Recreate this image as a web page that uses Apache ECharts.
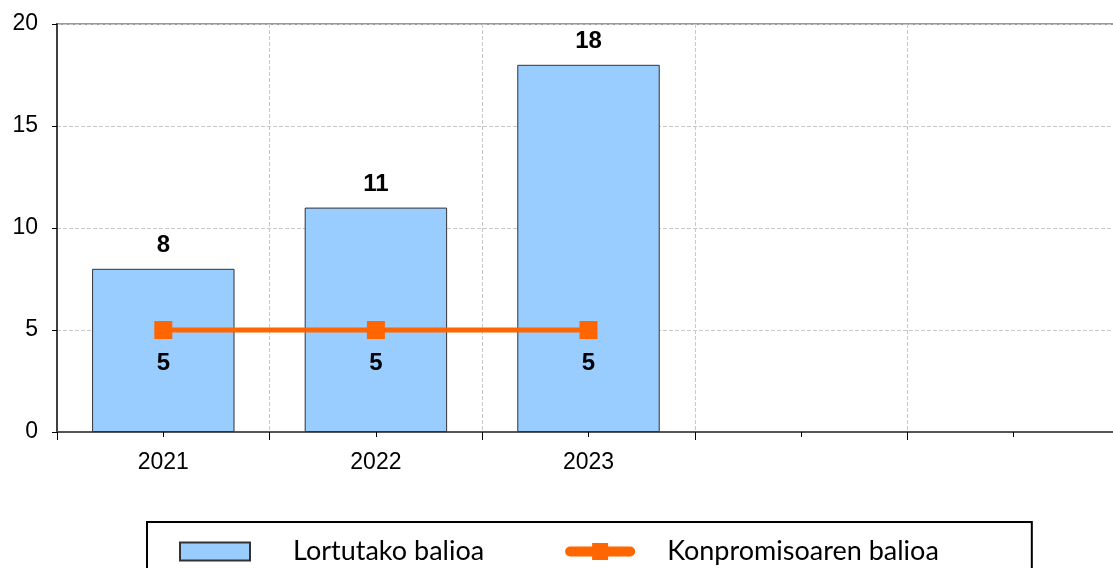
<!DOCTYPE html>
<html lang="eu">
<head>
    <meta charset="UTF-8">
    <title>Chart</title>
    <script src="https://cdn.jsdelivr.net/npm/echarts@6/dist/echarts.min.js"></script>
    <style>
        html, body { margin: 0; padding: 0; background: #fff; }
    </style>
</head>
<body>
<div id="main" style="width:1113px;height:568px;"></div>

<script type="text/javascript">
    // datuak
    var years = ['2021', '2022', '2023', '', ''];
    var lortutako = [8, 11, 18];
    var konpromiso = [5, 5, 5];
    var yTicks = { min: 0, max: 20, interval: 5 };

    // legendako lerro ikonoa: marra biribildua + laukia erdian
    var lineIcon = 'path://M5,4 H65 A5,5 0 0 1 65,14 H5 A5,5 0 0 1 5,4 Z M27,0.5 H43 V17.5 H27 Z';

    var myChart = echarts.init(document.getElementById('main'));

    var option = {
        backgroundColor: '#fff',
        animation: false,
        grid: {
            left: 57,
            top: 24,
            width: 1063,
            height: 408,
            outerBoundsMode: 'none',
            containLabel: false,
            show: true,
            borderColor: '#9a9a9a',
            borderWidth: 2,
            backgroundColor: 'transparent'
        },
        legend: {
            left: 147,
            top: 522,
            padding: [16, 93, 30, 32],
            borderColor: '#000',
            borderWidth: 2,
            itemWidth: 70,
            itemHeight: 18,
            itemGap: 81,
            textStyle: {
                fontFamily: 'Lato',
                fontSize: 27,
                color: '#000',
                padding: [0, 0, 0, 38]
            },
            data: [
                { name: 'Lortutako balioa', icon: 'rect' },
                {
                    name: 'Konpromisoaren balioa',
                    icon: lineIcon,
                    itemStyle: { color: '#ff6600', borderWidth: 0 },
                    textStyle: { padding: [0, 0, 0, 27] }
                }
            ]
        },
        xAxis: [{
            type: 'category',
            data: years,
            boundaryGap: true,
            axisLine: { lineStyle: { color: '#555', width: 2 } },
            axisTick: { show: true, alignWithLabel: false, length: 8, interval: 0, lineStyle: { color: '#000' } },
            axisLabel: {
                interval: 0,
                margin: 19,
                fontFamily: 'Arial, Liberation Sans',
                fontSize: 23,
                color: '#000'
            },
            splitLine: { show: true, interval: 0, lineStyle: { type: 'dashed', color: '#c8c8c8' } }
        }, {
            type: 'category',
            data: years,
            position: 'bottom',
            boundaryGap: true,
            axisLine: { show: false },
            axisTick: { show: true, alignWithLabel: true, length: 5, interval: 0, lineStyle: { color: '#000' } },
            axisLabel: { show: false },
            splitLine: { show: false }
        }],
        yAxis: {
            type: 'value',
            min: yTicks.min,
            max: yTicks.max,
            interval: yTicks.interval,
            axisLine: { show: true, lineStyle: { color: '#404040', width: 2 } },
            axisTick: { show: true, length: 5, lineStyle: { color: '#000' } },
            axisLabel: {
                margin: 19,
                fontFamily: 'Arial, Liberation Sans',
                fontSize: 23,
                color: '#000'
            },
            splitLine: { show: true, lineStyle: { type: 'dashed', color: '#c8c8c8' } }
        },
        series: [{
            name: 'Lortutako balioa',
            type: 'bar',
            data: lortutako,
            barWidth: '67%',
            itemStyle: { color: '#99ccff', borderColor: '#333', borderWidth: 1 },
            label: {
                show: true,
                position: 'top',
                distance: 11,
                fontFamily: 'Arial, Liberation Sans',
                fontWeight: 'bold',
                fontSize: 24,
                color: '#000'
            }
        }, {
            name: 'Konpromisoaren balioa',
            type: 'line',
            data: konpromiso,
            symbol: 'rect',
            symbolSize: 18,
            lineStyle: { color: '#ff6600', width: 5 },
            itemStyle: { color: '#ff6600' },
            label: {
                show: true,
                position: 'bottom',
                distance: 12,
                fontFamily: 'Arial, Liberation Sans',
                fontWeight: 'bold',
                fontSize: 24,
                color: '#000'
            }
        }]
    };
    myChart.setOption(option);
</script>
</body>
</html>
